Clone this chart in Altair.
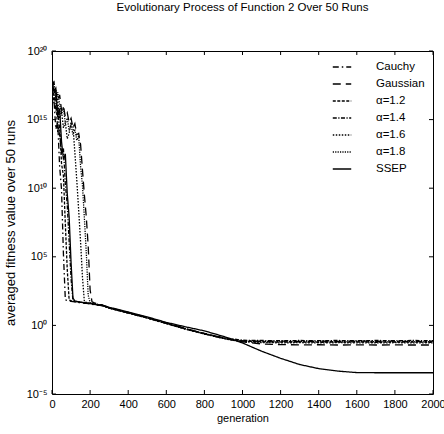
import altair as alt
import pandas as pd

FONT = "Liberation Sans"

# generations at which values are read
GENS = [0, 10, 20, 30, 40, 50, 60, 70, 80, 90, 100, 110, 120, 130, 140, 150, 160,
        170, 180, 190, 200, 210, 220, 230, 240, 250, 260,
        300, 400, 500, 600, 700, 800, 900, 1000, 1100, 1200, 1300, 1400, 1500,
        1600, 1700, 1800, 1900, 2000]

SERIES_NAMES = ["Cauchy", "Gaussian", "α=1.2", "α=1.4", "α=1.6", "α=1.8", "SSEP"]

# log10 of averaged fitness value
CAUCHY = [17.2, 16.5, 14.3, 14.8, 11.6, 9.9, 5.2, 1.86, 1.82, 1.78, 1.75, 1.73, 1.71, 1.69,
          1.67, 1.65, 1.63, 1.61, 1.6, 1.58, 1.56, 1.54, 1.52, 1.5, 1.48, 1.46, 1.44,
          1.28, 0.93, 0.56, 0.16, -0.24, -0.6, -0.92, -1.12, -1.16, -1.14, -1.17, -1.15,
          -1.16, -1.14, -1.16, -1.15, -1.17, -1.15]
GAUSSIAN = [17.3, 17.7, 17.0, 16.4, 16.8, 15.7, 16.0, 15.2, 15.5, 14.8, 15.1, 14.4, 14.7, 13.9,
            14.0, 13.2, 11.3, 9.5, 7.9, 5.8, 2.6, 1.72, 1.66, 1.61, 1.57, 1.54, 1.51,
            1.3, 0.95, 0.58, 0.18, -0.22, -0.6, -0.95, -1.2, -1.35, -1.4, -1.42, -1.41,
            -1.43, -1.42, -1.43, -1.42, -1.43, -1.43]
A12 = [17.6, 16.2, 16.8, 14.1, 14.6, 11.8, 10.9, 7.4, 4.1, 1.84, 1.8, 1.77, 1.74, 1.72,
       1.7, 1.68, 1.66, 1.64, 1.62, 1.6, 1.58, 1.56, 1.54, 1.52, 1.5, 1.48, 1.46,
       1.27, 0.9, 0.54, 0.14, -0.26, -0.62, -0.93, -1.14, -1.2, -1.22, -1.21, -1.23,
       -1.22, -1.21, -1.23, -1.22, -1.22, -1.23]
A14 = [17.0, 17.4, 15.6, 16.1, 13.9, 12.6, 12.9, 10.3, 8.8, 6.1, 3.4, 1.8, 1.76, 1.73,
       1.71, 1.68, 1.66, 1.64, 1.62, 1.6, 1.58, 1.56, 1.54, 1.52, 1.5, 1.48, 1.46,
       1.26, 0.91, 0.55, 0.15, -0.25, -0.58, -0.9, -1.08, -1.1, -1.12, -1.1, -1.11,
       -1.1, -1.12, -1.1, -1.11, -1.1, -1.11]
A16 = [17.4, 16.9, 17.2, 16.3, 15.1, 15.6, 14.4, 14.8, 13.6, 14.0, 14.8, 14.5, 12.6, 10.6,
       8.4, 6.1, 3.5, 1.72, 1.68, 1.65, 1.62, 1.6, 1.57, 1.55, 1.52, 1.5, 1.48,
       1.25, 0.9, 0.53, 0.13, -0.27, -0.63, -0.96, -1.2, -1.25, -1.27, -1.26, -1.28,
       -1.26, -1.27, -1.28, -1.26, -1.27, -1.27]
A18 = [17.5, 17.8, 16.6, 17.0, 16.1, 15.4, 15.9, 14.7, 15.1, 14.2, 14.6, 13.9, 14.3, 13.5,
       13.8, 11.6, 10.2, 7.8, 5.3, 2.2, 1.66, 1.62, 1.59, 1.56, 1.53, 1.51, 1.49,
       1.27, 0.92, 0.56, 0.16, -0.24, -0.61, -0.94, -1.16, -1.18, -1.19, -1.17, -1.18,
       -1.19, -1.17, -1.18, -1.19, -1.18, -1.18]
SSEP = [17.8, 17.1, 17.3, 15.2, 15.8, 13.4, 12.1, 12.5, 9.6, 7.9, 4.6, 2.0, 1.78, 1.75,
        1.72, 1.7, 1.68, 1.66, 1.64, 1.62, 1.6, 1.58, 1.56, 1.54, 1.52, 1.5, 1.48,
        1.32, 0.98, 0.62, 0.22, -0.1, -0.4, -0.8, -1.28, -1.88, -2.4, -2.85, -3.15,
        -3.33, -3.44, -3.45, -3.45, -3.45, -3.45]

SERIES_VALUES = [CAUCHY, GAUSSIAN, A12, A14, A16, A18, SSEP]

DASHES = [[6, 3, 1.5, 3], [8, 5], [3, 1.5], [4, 1.5, 1.2, 1.5], [1.5, 1.5], [1.2, 1.2], [1, 0]]
WIDTHS = [1.3, 1.3, 2, 2, 1.1, 1.8, 1]

X_TICKS = [0, 200, 400, 600, 800, 1000, 1200, 1400, 1600, 1800, 2000]
Y_TICK_EXP = [-5, 0, 5, 10, 15, 20]
Y_TICK_LABELS = ["10⁻⁵", "10⁰", "10⁵", "10¹⁰", "10¹⁵", "10²⁰"]

rows = []
for name, vals in zip(SERIES_NAMES, SERIES_VALUES):
    for g, v in zip(GENS, vals):
        rows.append({"generation": g, "fitness": 10.0 ** v, "series": name})
df = pd.DataFrame(rows)

y_ticks_vals = [10.0 ** e for e in Y_TICK_EXP]
label_expr = ""
for e, lab in zip(Y_TICK_EXP, Y_TICK_LABELS):
    label_expr += f"round(log(datum.value)/LN10) == {e} ? '{lab}' : "
label_expr += "''"

W, H = 381, 343
TL = 4

xscale = alt.Scale(domain=[0, 2000], nice=False, zero=False)
yscale = alt.Scale(type="log", domain=[1e-5, 1e20], nice=False)

xaxis = alt.Axis(values=X_TICKS, title="generation", labelPadding=4,
                 titlePadding=3, format="d", labelFlush=False,
                 labelOverlap=False, labelBound=False)
yaxis = alt.Axis(values=y_ticks_vals, labelExpr=label_expr,
                 title="averaged fitness value over 50 runs",
                 labelPadding=5, titlePadding=9, labelFlush=False,
                 labelOverlap=False, labelBound=False)

leg = alt.Legend(
    title=None, orient="none", legendX=280, legendY=6,
    symbolType="stroke", symbolSize=340, symbolStrokeColor="black",
    labelFont=FONT, labelFontSize=11.5, labelColor="black", labelOffset=24,
    rowPadding=1, padding=0, symbolOffset=0,
)

lines = alt.Chart(df).mark_line(color="black", clip=True).encode(
    x=alt.X("generation:Q", scale=xscale, axis=xaxis, title="generation"),
    y=alt.Y("fitness:Q", scale=yscale, axis=yaxis,
            title="averaged fitness value over 50 runs"),
    strokeDash=alt.StrokeDash("series:N", sort=SERIES_NAMES,
                              scale=alt.Scale(domain=SERIES_NAMES, range=DASHES), legend=leg),
    strokeWidth=alt.StrokeWidth("series:N", sort=SERIES_NAMES,
                                scale=alt.Scale(domain=SERIES_NAMES, range=WIDTHS), legend=leg),
)

xt = pd.DataFrame({"generation": X_TICKS})
yt = pd.DataFrame({"fitness": y_ticks_vals})

tick_bottom = alt.Chart(xt).mark_rule(color="black", strokeWidth=1).encode(
    x=alt.X("generation:Q", scale=xscale, axis=xaxis, title="generation"),
    y=alt.value(H), y2=alt.value(H - TL))
tick_top = alt.Chart(xt).mark_rule(color="black", strokeWidth=1).encode(
    x=alt.X("generation:Q", scale=xscale, axis=xaxis, title="generation"),
    y=alt.value(0), y2=alt.value(TL))
tick_left = alt.Chart(yt).mark_rule(color="black", strokeWidth=1).encode(
    y=alt.Y("fitness:Q", scale=yscale, axis=yaxis,
            title="averaged fitness value over 50 runs"),
    x=alt.value(0), x2=alt.value(TL))
tick_right = alt.Chart(yt).mark_rule(color="black", strokeWidth=1).encode(
    y=alt.Y("fitness:Q", scale=yscale, axis=yaxis,
            title="averaged fitness value over 50 runs"),
    x=alt.value(W), x2=alt.value(W - TL))

chart = alt.layer(lines, tick_bottom, tick_top, tick_left, tick_right).properties(
    width=W, height=H,
    autosize=alt.AutoSizeParams(type="none"),
    padding={"left": 52, "top": 51, "right": 11, "bottom": 40},
    title=alt.TitleParams("Evolutionary Process of Function 2 Over 50 Runs",
                          font=FONT, fontSize=11.5, fontWeight="normal",
                          color="black", offset=32, anchor="middle"),
    background="white",
).configure_view(
    stroke="black", strokeWidth=1
).configure_axis(
    domain=False, ticks=False, grid=False,
    labelFont=FONT, labelFontSize=11, labelColor="black",
    titleFont=FONT, titleFontSize=11, titleFontWeight="normal", titleColor="black",
).configure_axisY(
    titleFontSize=13
)

chart.save("out.html", embed_options={"renderer": "svg", "actions": False})
